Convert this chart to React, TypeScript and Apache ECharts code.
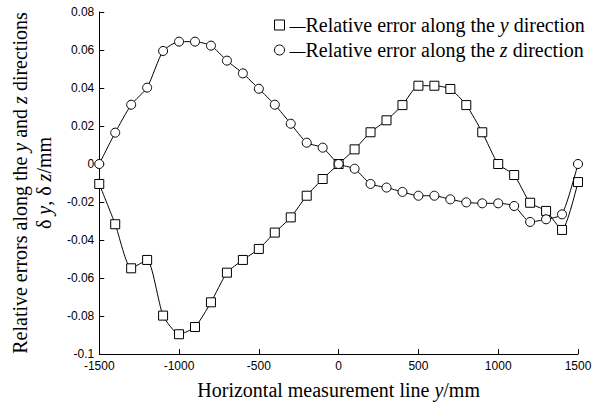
import React, { useEffect, useRef } from "react";
import * as echarts from "echarts";

const xValues = [-1500, -1400, -1300, -1200, -1100, -1000, -900, -800, -700, -600, -500, -400, -300, -200, -100, 0, 100, 200, 300, 400, 500, 600, 700, 800, 900, 1000, 1100, 1200, 1300, 1400, 1500];
const errY = [-0.0105, -0.0317, -0.0549, -0.0505, -0.0798, -0.0896, -0.0858, -0.0728, -0.0572, -0.0505, -0.0447, -0.0361, -0.0281, -0.0167, -0.0079, 0, 0.0077, 0.0167, 0.023, 0.031, 0.0412, 0.0412, 0.0395, 0.031, 0.0167, 0, -0.0058, -0.0204, -0.0247, -0.0347, -0.0095];
const errZ = [0, 0.0165, 0.0312, 0.0402, 0.0595, 0.0644, 0.0644, 0.0623, 0.0544, 0.0477, 0.0396, 0.0312, 0.0212, 0.0112, 0.0086, 0, -0.0025, -0.0105, -0.0124, -0.0147, -0.0167, -0.0167, -0.0186, -0.0202, -0.0207, -0.0207, -0.0221, -0.0305, -0.0291, -0.0265, 0];
const seriesNames = ["Relative error along the y direction", "Relative error along the z direction"];

const serif = "'Liberation Serif', 'Times New Roman', serif";
const sans = "'Liberation Sans', Arial, sans-serif";
const FS = 20;

export default function App() {
  const ref = useRef<HTMLDivElement>(null);
  useEffect(() => {
    if (!ref.current) return;
    const chart = echarts.init(ref.current, null, { renderer: "svg" });
    const mk = (vals: number[]) => xValues.map((x, i) => [x, vals[i]]);
    const rich = {
      n: { fontFamily: serif, fontSize: FS, color: "#000" },
      i: { fontFamily: serif, fontStyle: "italic", fontSize: FS, color: "#000" },
      d: { fontFamily: serif, fontSize: 16, color: "#000" },
    };
    chart.setOption({
      animation: false,
      backgroundColor: "#fff",
      grid: { left: 98, right: 31, top: 12, bottom: 51, containLabel: false },
      legend: {
        orient: "vertical",
        left: 269,
        top: 10,
        itemWidth: 10,
        itemHeight: 10,
        itemGap: 5,
        data: [
          { name: seriesNames[0], icon: "rect", itemStyle: { color: "#fff", borderColor: "#000", borderWidth: 1 } },
          { name: seriesNames[1], icon: "circle", itemStyle: { color: "#fff", borderColor: "#000", borderWidth: 1 } },
        ],
        formatter: (name: string) =>
          name === seriesNames[0]
            ? "{d|—}{n|Relative error along the }{i|y}{n| direction}"
            : "{d|—}{n|Relative error along the }{i|z}{n| direction}",
        textStyle: {
          fontFamily: serif,
          fontSize: FS,
          color: "#000",
          padding: [0, 0, 0, 0],
          rich,
        },
      },
      xAxis: {
        type: "value",
        min: -1500,
        max: 1500,
        interval: 500,
        axisLine: { onZero: false, lineStyle: { color: "#000", width: 1 } },
        axisTick: { inside: true, length: 5, lineStyle: { color: "#000" } },
        splitLine: { show: false },
        axisLabel: { color: "#000", fontFamily: sans, fontSize: 12, margin: 6, formatter: (v: number) => String(v) },
        name: "{n|Horizontal measurement line }{i|y}{n|/mm}",
        nameLocation: "middle",
        nameGap: 26,
        nameTextStyle: { fontFamily: serif, fontSize: FS, color: "#000", rich },
      },
      yAxis: {
        type: "value",
        min: -0.1,
        max: 0.08,
        interval: 0.02,
        axisLine: { show: true, onZero: false, lineStyle: { color: "#000", width: 1 } },
        axisTick: { show: true, inside: true, length: 5, lineStyle: { color: "#000" } },
        splitLine: { show: false },
        axisLabel: {
          color: "#000",
          fontFamily: sans,
          fontSize: 12,
          margin: 5,
          formatter: (v: number) => String(Math.round(v * 100) / 100),
        },
        name: "{n|Relative errors along the }{i|y}{n| and }{i|z}{n| directions}\n{n|δ }{i|y}{n|, δ }{i|z}{n|/mm}",
        nameLocation: "middle",
        nameRotate: 90,
        nameGap: 43,
        nameTextStyle: { fontFamily: serif, fontSize: FS, color: "#000", lineHeight: 24, rich },
      },
      series: [
        {
          name: seriesNames[0],
          type: "line",
          data: mk(errY),
          smooth: 0.2,
          symbol: "rect",
          symbolSize: 9,
          lineStyle: { color: "#000", width: 1 },
          itemStyle: { color: "#fff", borderColor: "#000", borderWidth: 1 },
          z: 2,
        },
        {
          name: seriesNames[1],
          type: "line",
          data: mk(errZ),
          smooth: 0.2,
          symbol: "circle",
          symbolSize: 9,
          lineStyle: { color: "#000", width: 1 },
          itemStyle: { color: "#fff", borderColor: "#000", borderWidth: 1 },
          z: 3,
        },
      ],
    });
    return () => chart.dispose();
  }, []);
  return <div ref={ref} style={{ width: 609, height: 405, position: "absolute", left: 0, top: 0 }} />;
}
